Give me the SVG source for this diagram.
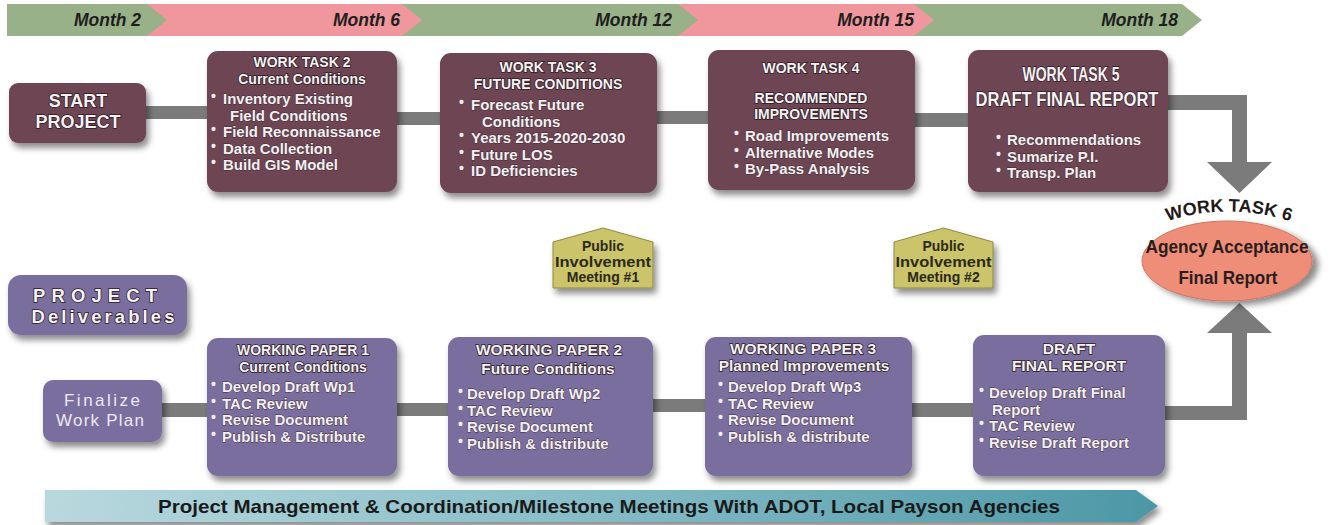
<svg xmlns="http://www.w3.org/2000/svg" width="1334" height="525" viewBox="0 0 1334 525">
<defs>
<filter id="sh" x="-15%" y="-15%" width="135%" height="140%"><feDropShadow dx="3" dy="5" stdDeviation="3" flood-color="#000" flood-opacity="0.45"/></filter>
<filter id="sh2" x="-15%" y="-15%" width="135%" height="140%"><feDropShadow dx="6" dy="4" stdDeviation="3" flood-color="#000" flood-opacity="0.45"/></filter>
<linearGradient id="teal" x1="0" y1="0" x2="1" y2="0"><stop offset="0" stop-color="#b9d8de"/><stop offset="0.5" stop-color="#84bcc6"/><stop offset="1" stop-color="#4c97a6"/></linearGradient>
<path id="arc6" d="M1154 226 Q1228 197 1304 226"/>
<style>
.g{fill:#98b189}
.p{fill:#ef979d}
.mo{font-family:"Liberation Sans",Arial,sans-serif;font-weight:bold;font-style:italic;font-size:17.5px;fill:#1e1e1e;text-anchor:end}
.wt{fill:#6d4453}
.wp{fill:#7a6e9e}
.bar{fill:#7b7b7b}
.ttl{font-family:"Liberation Sans",Arial,sans-serif;font-weight:bold;font-size:14px;fill:#f6f2f4;stroke:#2a1c22;stroke-width:1.5px;paint-order:stroke;text-anchor:middle}
.ttl2{font-size:15.5px}
.bt{font-family:"Liberation Sans",Arial,sans-serif;font-weight:bold;font-size:15px;fill:#f4f0f2;stroke:#3a2a32;stroke-width:0.8px;paint-order:stroke}
.bul{font-size:14px;stroke:none}
.pim{fill:#cbc46b;stroke:#8d8840;stroke-width:1}
.pt{font-family:"Liberation Sans",Arial,sans-serif;font-weight:bold;font-size:14px;fill:#2b2a18;text-anchor:middle}
.big{font-family:"Liberation Sans",Arial,sans-serif;font-weight:bold;fill:#f6f2f4;stroke:#2a1c22;stroke-width:1.5px;paint-order:stroke;text-anchor:middle}
</style>
</defs>
<rect width="1334" height="525" fill="#ffffff"/>

<g id="timeline">
<polygon class="g" points="905,4 1182,4 1202,20 1182,36 905,36"/>
<polygon class="p" points="670,4 914,4 934,20 914,36 670,36"/>
<polygon class="g" points="395,4 678,4 698,20 678,36 395,36"/>
<polygon class="p" points="140,4 402,4 422,20 402,36 140,36"/>
<polygon class="g" points="7,4 147,4 167,20 147,36 7,36"/>
<text class="mo" x="141" y="26">Month 2</text>
<text class="mo" x="400" y="26">Month 6</text>
<text class="mo" x="672" y="26">Month 12</text>
<text class="mo" x="914" y="26">Month 15</text>
<text class="mo" x="1178" y="26">Month 18</text>
</g>

<g id="connectors">
<rect class="bar" x="140" y="106" width="72" height="13"/>
<rect class="bar" x="392" y="112" width="52" height="13"/>
<rect class="bar" x="652" y="111" width="60" height="13"/>
<rect class="bar" x="910" y="113" width="62" height="14"/>
<polygon class="bar" points="1162,95 1247,95 1247,162 1272,162 1239.5,193 1207,162 1232,162 1232,110 1162,110"/>
<rect class="bar" x="156" y="403" width="56" height="14"/>
<rect class="bar" x="392" y="403" width="60" height="13"/>
<rect class="bar" x="648" y="399" width="61" height="13"/>
<rect class="bar" x="907" y="403" width="70" height="14"/>
<polygon class="bar" points="1160,406 1232,406 1232,333 1207,333 1239.5,303 1272,333 1247,333 1247,420 1160,420"/>
</g>

<g id="start">
<rect class="wt" x="9" y="83" width="137" height="60" rx="9" filter="url(#sh)"/>
<text class="big" x="78" y="107" font-size="18">START</text>
<text class="big" x="78" y="128" font-size="18">PROJECT</text>
</g>

<g id="wt2">
<rect class="wt" x="207" y="51" width="190" height="141" rx="11" filter="url(#sh)"/>
<text class="ttl" x="302" y="67">WORK TASK 2</text>
<text class="ttl" x="302" y="83.5" font-size="13.5">Current Conditions</text>
<text class="bt" x="211" y="104"><tspan class="bul" dy="-3">•</tspan><tspan x="223" dy="3">Inventory Existing</tspan></text>
<text class="bt" x="230" y="120.5">Field Conditions</text>
<text class="bt" x="211" y="137"><tspan class="bul" dy="-3">•</tspan><tspan x="223" dy="3">Field Reconnaissance</tspan></text>
<text class="bt" x="211" y="153.5"><tspan class="bul" dy="-3">•</tspan><tspan x="223" dy="3">Data Collection</tspan></text>
<text class="bt" x="211" y="170"><tspan class="bul" dy="-3">•</tspan><tspan x="223" dy="3">Build GIS Model</tspan></text>
</g>

<g id="wt3">
<rect class="wt" x="440" y="53" width="217" height="140" rx="11" filter="url(#sh)"/>
<text class="ttl" x="548" y="72">WORK TASK 3</text>
<text class="ttl" x="548" y="88.5" font-size="13.5">FUTURE CONDITIONS</text>
<text class="bt" x="459" y="110"><tspan class="bul" dy="-3">•</tspan><tspan x="471" dy="3">Forecast Future</tspan></text>
<text class="bt" x="482" y="126.5">Conditions</text>
<text class="bt" x="459" y="143"><tspan class="bul" dy="-3">•</tspan><tspan x="471" dy="3">Years 2015-2020-2030</tspan></text>
<text class="bt" x="459" y="159.5"><tspan class="bul" dy="-3">•</tspan><tspan x="471" dy="3">Future LOS</tspan></text>
<text class="bt" x="459" y="176"><tspan class="bul" dy="-3">•</tspan><tspan x="471" dy="3">ID Deficiencies</tspan></text>
</g>

<g id="wt4">
<rect class="wt" x="708" y="50" width="207" height="140" rx="11" filter="url(#sh)"/>
<text class="ttl" x="811" y="73">WORK TASK 4</text>
<text class="ttl" x="811" y="103">RECOMMENDED</text>
<text class="ttl" x="811" y="119">IMPROVEMENTS</text>
<text class="bt" x="734" y="141"><tspan class="bul" dy="-3">•</tspan><tspan x="745" dy="3">Road Improvements</tspan></text>
<text class="bt" x="734" y="157.5"><tspan class="bul" dy="-3">•</tspan><tspan x="745" dy="3">Alternative Modes</tspan></text>
<text class="bt" x="734" y="174"><tspan class="bul" dy="-3">•</tspan><tspan x="745" dy="3">By-Pass Analysis</tspan></text>
</g>

<g id="wt5">
<rect class="wt" x="968" y="50" width="200" height="142" rx="11" filter="url(#sh)"/>
<text class="big" x="1071" y="81" font-size="21" textLength="97" lengthAdjust="spacingAndGlyphs">WORK TASK 5</text>
<text class="big" x="1067" y="106" font-size="21" textLength="183" lengthAdjust="spacingAndGlyphs">DRAFT FINAL REPORT</text>
<text class="bt" x="996" y="145"><tspan class="bul" dy="-3">•</tspan><tspan x="1007" dy="3">Recommendations</tspan></text>
<text class="bt" x="996" y="161.5"><tspan class="bul" dy="-3">•</tspan><tspan x="1007" dy="3">Sumarize P.I.</tspan></text>
<text class="bt" x="996" y="178"><tspan class="bul" dy="-3">•</tspan><tspan x="1007" dy="3">Transp. Plan</tspan></text>
</g>

<g id="wt6">
<ellipse cx="1227" cy="261" rx="85" ry="40" fill="#ee8d78" stroke="#d07560" stroke-width="1" filter="url(#sh2)"/>
<text font-family="Liberation Sans, Arial, sans-serif" font-weight="bold" font-size="18" fill="#1e1a1a" text-anchor="middle"><textPath href="#arc6" startOffset="50%">WORK TASK 6</textPath></text>
<text x="1227" y="253" font-family="Liberation Sans, Arial, sans-serif" font-weight="bold" font-size="19" fill="#2a1c1c" text-anchor="middle" textLength="163" lengthAdjust="spacingAndGlyphs">Agency Acceptance</text>
<text x="1228" y="284" font-family="Liberation Sans, Arial, sans-serif" font-weight="bold" font-size="19" fill="#2a1c1c" text-anchor="middle" textLength="99" lengthAdjust="spacingAndGlyphs">Final Report</text>
</g>

<g id="pim1">
<polygon class="pim" points="553,242 603,228 653,242 653,288 553,288" filter="url(#sh)"/>
<text class="pt" x="603" y="251">Public</text>
<text class="pt" x="603" y="266.5" textLength="96" lengthAdjust="spacingAndGlyphs">Involvement</text>
<text class="pt" x="603" y="282">Meeting #1</text>
</g>

<g id="pim2">
<polygon class="pim" points="894,242 943.5,228 993,242 993,288 894,288" filter="url(#sh)"/>
<text class="pt" x="943.5" y="251">Public</text>
<text class="pt" x="943.5" y="266.5" textLength="96" lengthAdjust="spacingAndGlyphs">Involvement</text>
<text class="pt" x="943.5" y="282">Meeting #2</text>
</g>

<g id="deliverables">
<rect class="wp" x="8" y="275" width="179" height="60" rx="13" filter="url(#sh)"/>
<text class="big" x="95" y="302" font-size="18.5" textLength="124" lengthAdjust="spacing">PROJECT</text>
<text class="big" x="103" y="323" font-size="18.5" textLength="143" lengthAdjust="spacing">Deliverables</text>
</g>

<g id="finalize">
<rect class="wp" x="43" y="380" width="119" height="62" rx="10" filter="url(#sh)"/>
<text x="102" y="406" font-family="Liberation Sans, Arial, sans-serif" font-size="17" fill="#ebe9f2" text-anchor="middle" textLength="76" lengthAdjust="spacing">Finalize</text>
<text x="100" y="426" font-family="Liberation Sans, Arial, sans-serif" font-size="17" fill="#ebe9f2" text-anchor="middle" textLength="88" lengthAdjust="spacing">Work Plan</text>
</g>

<g id="wp1">
<rect class="wp" x="207" y="338" width="190" height="138" rx="11" filter="url(#sh)"/>
<text class="ttl" x="303" y="355" font-size="15">WORKING PAPER 1</text>
<text class="ttl" x="303" y="372" font-size="14.5">Current Conditions</text>
<text class="bt" x="211" y="392"><tspan class="bul" dy="-3">•</tspan><tspan x="222" dy="3">Develop Draft Wp1</tspan></text>
<text class="bt" x="211" y="408.5"><tspan class="bul" dy="-3">•</tspan><tspan x="222" dy="3">TAC Review</tspan></text>
<text class="bt" x="211" y="425"><tspan class="bul" dy="-3">•</tspan><tspan x="222" dy="3">Revise Document</tspan></text>
<text class="bt" x="211" y="441.5"><tspan class="bul" dy="-3">•</tspan><tspan x="222" dy="3">Publish &amp; Distribute</tspan></text>
</g>

<g id="wp2">
<rect class="wp" x="448" y="337" width="205" height="139" rx="11" filter="url(#sh)"/>
<text class="ttl ttl2" x="549" y="355">WORKING PAPER 2</text>
<text class="ttl ttl2" x="548" y="374">Future Conditions</text>
<text class="bt" x="458" y="399"><tspan class="bul" dy="-3">•</tspan><tspan x="467" dy="3">Develop Draft Wp2</tspan></text>
<text class="bt" x="458" y="415.5"><tspan class="bul" dy="-3">•</tspan><tspan x="467" dy="3">TAC Review</tspan></text>
<text class="bt" x="458" y="432"><tspan class="bul" dy="-3">•</tspan><tspan x="467" dy="3">Revise Document</tspan></text>
<text class="bt" x="458" y="448.5"><tspan class="bul" dy="-3">•</tspan><tspan x="467" dy="3">Publish &amp; distribute</tspan></text>
</g>

<g id="wp3">
<rect class="wp" x="705" y="337" width="207" height="139" rx="11" filter="url(#sh)"/>
<text class="ttl ttl2" x="803" y="354">WORKING PAPER 3</text>
<text class="ttl ttl2" x="804" y="371">Planned Improvements</text>
<text class="bt" x="718" y="392"><tspan class="bul" dy="-3">•</tspan><tspan x="728" dy="3">Develop Draft Wp3</tspan></text>
<text class="bt" x="718" y="408.5"><tspan class="bul" dy="-3">•</tspan><tspan x="728" dy="3">TAC Review</tspan></text>
<text class="bt" x="718" y="425"><tspan class="bul" dy="-3">•</tspan><tspan x="728" dy="3">Revise Document</tspan></text>
<text class="bt" x="718" y="441.5"><tspan class="bul" dy="-3">•</tspan><tspan x="728" dy="3">Publish &amp; distribute</tspan></text>
</g>

<g id="dfr">
<rect class="wp" x="973" y="335" width="192" height="141" rx="11" filter="url(#sh)"/>
<text class="ttl ttl2" x="1069" y="354">DRAFT</text>
<text class="ttl ttl2" x="1069" y="371">FINAL REPORT</text>
<text class="bt" x="979" y="398"><tspan class="bul" dy="-3">•</tspan><tspan x="989" dy="3">Develop Draft Final</tspan></text>
<text class="bt" x="992" y="414.5">Report</text>
<text class="bt" x="979" y="431"><tspan class="bul" dy="-3">•</tspan><tspan x="989" dy="3">TAC Review</tspan></text>
<text class="bt" x="979" y="447.5"><tspan class="bul" dy="-3">•</tspan><tspan x="989" dy="3">Revise Draft Report</tspan></text>
</g>

<g id="pm-banner">
<polygon points="45,490 1136,490 1158,506 1136,522 45,522" fill="url(#teal)" filter="url(#sh)"/>
<text x="609" y="513" font-family="Liberation Sans, Arial, sans-serif" font-weight="bold" font-size="19" fill="#1a1a1a" text-anchor="middle" textLength="902" lengthAdjust="spacingAndGlyphs">Project Management &amp; Coordination/Milestone Meetings With ADOT, Local Payson Agencies</text>
</g>
</svg>
